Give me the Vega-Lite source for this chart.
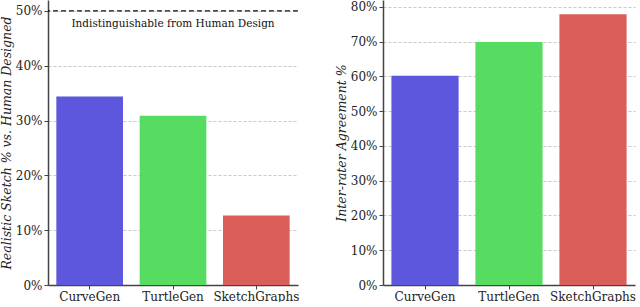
{
  "$schema": "https://vega.github.io/schema/vega-lite/v6.json",
  "padding": 0,
  "spacing": 36,
  "config": {
    "font": "DejaVu Serif",
    "view": {"stroke": null},
    "axis": {
      "labelFont": "DejaVu Serif",
      "labelFontSize": 12,
      "labelColor": "#222",
      "domainColor": "#444",
      "domainWidth": 1.5,
      "tickColor": "#444",
      "tickSize": 4,
      "titleFont": "DejaVu Serif",
      "titleFontStyle": "italic",
      "titleFontWeight": "normal",
      "titleFontSize": 12.5,
      "titleColor": "#222",
      "gridColor": "#bbbbbb",
      "gridDash": [3, 2],
      "gridWidth": 0.8
    }
  },
  "datasets": {
    "realistic": [
      {"model": "CurveGen", "value": 34.4},
      {"model": "TurtleGen", "value": 30.9},
      {"model": "SketchGraphs", "value": 12.7}
    ],
    "agreement": [
      {"model": "CurveGen", "value": 60.2},
      {"model": "TurtleGen", "value": 69.9},
      {"model": "SketchGraphs", "value": 77.9}
    ],
    "ref": [{"y": 50, "label": "Indistinguishable from Human Design"}]
  },
  "hconcat": [
    {
      "width": 250,
      "height": 285,
      "layer": [
        {
          "data": {"name": "realistic"},
          "mark": {"type": "bar"},
          "encoding": {
            "x": {"field": "model", "type": "nominal", "sort": null,
                  "scale": {"paddingInner": 0.2, "paddingOuter": 0.1},
                  "axis": {"title": null, "labelAngle": 0, "labelPadding": 2}},
            "y": {"field": "value", "type": "quantitative",
                  "scale": {"domain": [0, 52], "nice": false},
                  "axis": {"title": "Realistic Sketch % vs. Human Designed", "values": [0, 10, 20, 30, 40, 50],
                           "labelExpr": "datum.value + '%'", "titlePadding": 2}},
            "color": {"field": "model", "type": "nominal", "sort": null, "legend": null,
                      "scale": {"domain": ["CurveGen", "TurtleGen", "SketchGraphs"], "range": ["#5c57dc", "#56dd61", "#db5f58"]}}
          }
        },
        {
          "data": {"name": "ref"},
          "mark": {"type": "rule", "color": "#111", "strokeDash": [5, 3], "strokeWidth": 1.3},
          "encoding": {"y": {"field": "y", "type": "quantitative"}}
        },
        {
          "data": {"name": "ref"},
          "mark": {"type": "text", "fontSize": 10.5, "color": "#111", "dy": 13, "baseline": "middle", "align": "center"},
          "encoding": {"y": {"field": "y", "type": "quantitative"}, "text": {"field": "label"}}
        }
      ]
    },
    {
      "width": 252,
      "height": 285,
      "data": {"name": "agreement"},
      "mark": {"type": "bar"},
      "encoding": {
        "x": {"field": "model", "type": "nominal", "sort": null,
              "scale": {"paddingInner": 0.2, "paddingOuter": 0.1},
              "axis": {"title": null, "labelAngle": 0, "labelPadding": 2}},
        "y": {"field": "value", "type": "quantitative",
              "scale": {"domain": [0, 82], "nice": false},
              "axis": {"title": "Inter-rater Agreement %", "values": [0, 10, 20, 30, 40, 50, 60, 70, 80],
                       "labelExpr": "datum.value + '%'", "titlePadding": 2}},
        "color": {"field": "model", "type": "nominal", "sort": null, "legend": null,
                  "scale": {"domain": ["CurveGen", "TurtleGen", "SketchGraphs"], "range": ["#5c57dc", "#56dd61", "#db5f58"]}}
      }
    }
  ]
}
